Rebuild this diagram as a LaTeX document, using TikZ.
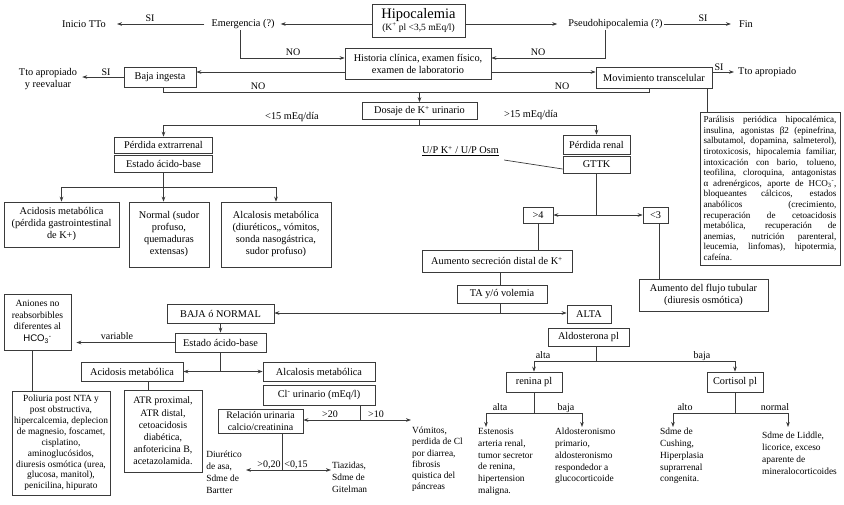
\documentclass[tikz,border=0pt]{standalone}
\usepackage{fontspec}
\setmainfont{Liberation Serif}
\newfontfamily\sansf{Liberation Sans}
\usetikzlibrary{arrows.meta}
\newcommand\fsz[2]{\fontsize{#1}{#2}\selectfont}
\definecolor{lc}{HTML}{3a3a3a}
\begin{document}
\begin{tikzpicture}[x=1pt,y=-1pt,
  box/.style={draw=lc, line width=0.7pt, align=center, inner sep=1pt, font=\fsz{10.3}{12}},
  txt/.style={inner sep=1pt, align=center, font=\fsz{10.3}{12}},
  ltxt/.style={inner sep=1pt, align=left, anchor=north west, font=\fsz{9.4}{11.8}},
  lab/.style={inner sep=0pt, anchor=base, font=\fsz{10}{12}},
  ln/.style={draw=lc, line width=0.7pt},
  arr/.style={ln, -{Stealth[length=5pt,width=3.6pt]}},
  darr/.style={ln, {Stealth[length=5pt,width=3.6pt]}-{Stealth[length=5pt,width=3.6pt]}},
]
\useasboundingbox (0,0) rectangle (844,504);

% ---------- top ----------
\node[box, minimum width=93, minimum height=33] (hipo) at (418.5,20.5)
  {{\fsz{14.5}{15}Hipocalemia}\\{\fsz{9.5}{11}(K\textsuperscript{+} pl <3,5 mEq/l)}};
\node[txt] (emerg) at (243,24) {Emergencia (?)};
\node[txt] (inicio) at (84,24) {Inicio TTo};
\node[txt] (pseudo) at (615.5,24) {Pseudohipocalemia (?)};
\node[txt] (fin) at (746,24) {Fin};
\node[box, minimum width=146, minimum height=31] (hist) at (418,63.5)
  {Historia clínica, examen físico,\\examen de laboratorio};
\node[box, minimum width=72, minimum height=20] (baja) at (160,77) {Baja ingesta};
\node[txt] (tto1) at (48,79.5) {Tto apropiado\\y reevaluar};
\node[box, minimum width=116, minimum height=21] (mov) at (654,77.5) {Movimiento transcelular};
\node[txt, anchor=west] (tto2) at (737,72) {Tto apropiado};
\node[box, minimum width=140, minimum height=153, align=left, inner sep=0pt, font=\fsz{9.1}{10.6}] (big) at (770,188.5)
  {\makebox[133pt][s]{Parálisis periódica hipocalémica,}\\
   \makebox[133pt][s]{insulina, agonistas β2 (epinefrina,}\\
   \makebox[133pt][s]{salbutamol, dopamina, salmeterol),}\\
   \makebox[133pt][s]{tirotoxicosis, hipocalemia familiar,}\\
   \makebox[133pt][s]{intoxicación con bario, tolueno,}\\
   \makebox[133pt][s]{teofilina, cloroquina, antagonistas}\\
   \makebox[133pt][s]{α adrenérgicos, aporte de HCO\textsubscript{3}\textsuperscript{-},}\\
   \makebox[133pt][s]{bloqueantes cálcicos, estados}\\
   \makebox[133pt][s]{anabólicos (crecimiento,}\\
   \makebox[133pt][s]{recuperación de cetoacidosis}\\
   \makebox[133pt][s]{metabólica, recuperación de}\\
   \makebox[133pt][s]{anemias, nutrición parenteral,}\\
   \makebox[133pt][s]{leucemia, linfomas), hipotermia,}\\
   cafeína.};

\node[box, minimum width=115, minimum height=17] (dos) at (419.5,111) {Dosaje de K\textsuperscript{+} urinario};
\node[txt] (lt15) at (292,117) {<15 mEq/día};
\node[txt] (gt15) at (531,115) {>15 mEq/día};

% ---------- extrarrenal ----------
\node[box, minimum width=98, minimum height=16] (pext) at (163.5,145) {Pérdida extrarrenal};
\node[box, minimum width=98, minimum height=17] (est1) at (163.5,163.5) {Estado ácido-base};
\node[box, minimum width=115, minimum height=45] (acid1) at (61.5,224.5)
  {Acidosis metabólica\\(pérdida gastrointestinal\\de K+)};
\node[box, minimum width=80, minimum height=65] (norm) at (169,234.5)
  {Normal (sudor\\profuso,\\quemaduras\\extensas)};
\node[box, minimum width=110, minimum height=65] (alc1) at (276,234.5)
  {Alcalosis metabólica\\(diuréticos,, vómitos,\\sonda nasogástrica,\\sudor profuso)};

% ---------- renal ----------
\node[box, minimum width=67, minimum height=19] (pren) at (596.5,144.5) {Pérdida renal};
\node[box, minimum width=67, minimum height=17] (gttk) at (596.5,164.5) {GTTK};
\node[txt, anchor=south west] (upk) at (421,157) {\underline{U/P K\textsuperscript{+} / U/P Osm}};
\node[box, minimum width=30, minimum height=16] (gt4) at (538,215) {>4};
\node[box, minimum width=25, minimum height=16] (lt3) at (655.5,215) {<3};
\node[box, minimum width=150, minimum height=22] (aums) at (497,261) {Aumento secreción distal de K\textsuperscript{+}};
\node[box, minimum width=129, minimum height=32] (aumf) at (703.5,295) {Aumento del flujo tubular\\(diuresis osmótica)};
\node[box, minimum width=90, minimum height=18] (ta) at (502,294) {TA y/ó volemia};
\node[box, minimum width=107, minimum height=19] (bajn) at (220.5,313.5) {BAJA ó NORMAL};
\node[box, minimum width=44, minimum height=18] (alta) at (589,314) {ALTA};
\node[box, minimum width=81, minimum height=18] (aldo) at (588.5,337) {Aldosterona pl};
\node[box, minimum width=56, minimum height=20] (ren) at (534,382) {renina pl};
\node[box, minimum width=56, minimum height=20] (cort) at (735,382) {Cortisol pl};
\node[ltxt] (esten) at (477,427) {Estenosis\\arteria renal,\\tumor secretor\\de renina,\\hipertension\\maligna.};
\node[ltxt] (aldst) at (554,427) {Aldosteronismo\\primario,\\aldosteronismo\\respondedor a\\glucocorticoide};
\node[ltxt] (cush) at (659,427) {Sdme de\\Cushing,\\Hiperplasia\\suprarrenal\\congenita.};
\node[ltxt] (lidd) at (761,431) {Sdme de Liddle,\\licorice, exceso\\aparente de\\mineralocorticoides};

% ---------- lower left ----------
\node[box, minimum width=67, minimum height=56, font=\fsz{9.6}{11.2}] (anio) at (37.5,322)
  {Aniones no\\reabsorbibles\\diferentes al\\[1.5pt]{\sansf HCO\textsubscript{3}\textsuperscript{-}}};
\node[box, minimum width=91, minimum height=19] (est2) at (220.5,342.5) {Estado ácido-base};
\node[box, minimum width=102, minimum height=19] (acid2) at (132,371.5) {Acidosis metabólica};
\node[box, minimum width=112, minimum height=19] (alc2) at (319,371.5) {Alcalosis metabólica};
\node[box, minimum width=112, minimum height=20] (cl) at (319,395) {Cl\textsuperscript{-} urinario (mEq/l)};
\node[box, minimum width=98, minimum height=104, font=\fsz{9.4}{10.9}] (poli) at (61,443)
  {Poliuria post NTA y\\post obstructiva,\\hipercalcemia, deplecion\\de magnesio, foscamet,\\cisplatino,\\aminoglucósidos,\\diuresis osmótica (urea,\\glucosa, manitol),\\penicilina, hipurato};
\node[box, minimum width=78, minimum height=82, font=\fsz{9.9}{12.2}] (atr) at (163,431)
  {ATR proximal,\\ATR distal,\\cetoacidosis\\diabética,\\anfotericina B,\\acetazolamida.};
\node[box, minimum width=85, minimum height=24, font=\fsz{9.9}{11.5}] (rel) at (260.5,421) {Relación urinaria\\calcio/creatinina};
\node[ltxt, font=\fsz{9.4}{11.2}] (vom) at (411,426) {Vómitos,\\perdida de Cl\\por diarrea,\\fibrosis\\quistica del\\páncreas};
\node[ltxt, anchor=north east, font=\fsz{9.4}{12}] (diur) at (243,450) {Diurético\\de asa,\\Sdme de\\Bartter};
\node[ltxt, font=\fsz{9.4}{12}] (tiaz) at (331,461) {Tiazidas,\\Sdme de\\Gitelman};

% ---------- coordinates ----------
\coordinate (j1) at (419.5,92);
\coordinate (j2) at (419.5,125);
\coordinate (j3) at (163.5,187);
\coordinate (j4) at (596.5,215);
\coordinate (j5) at (500,313);
\coordinate (j6) at (596,361);
\coordinate (j7) at (534,413);
\coordinate (j8) at (735,413);
\coordinate (j9) at (220.5,371.5);
\coordinate (j10) at (360,420);
\coordinate (j11) at (282,470);

% ---------- connectors ----------
\draw[arr, shorten >=5pt] (hipo.west |- emerg.east) -- (emerg.east);
\draw[arr, shorten <=6pt, shorten >=10pt] (emerg.west) -- (inicio.east);
\node[lab] at (150,21) {SI};
\draw[arr, shorten >=10pt] (hipo.east |- pseudo.west) -- (pseudo.west);
\draw[arr, shorten >=7pt] (pseudo.east) -- (fin.west);
\node[lab] at (703,21) {SI};
\draw[arr] ([xshift=-3pt]emerg.south) |- ([yshift=5.5pt]hist.west);
\node[lab] at (293,55) {NO};
\draw[arr] ([xshift=-10.5pt]pseudo.south) |- ([yshift=5.5pt]hist.east);
\node[lab] at (538,55) {NO};
\draw[arr] ([yshift=-8.5pt]hist.west) coordinate (h1) -- (h1 -| baja.east);
\draw[arr, shorten >=4pt] (baja.west) -- (baja.west -| tto1.east);
\node[lab] at (106,75) {SI};
\draw[arr] ([yshift=-8.5pt]hist.east) coordinate (h2) -- (h2 -| mov.west);
\draw[arr, shorten >=3pt] ([yshift=5.5pt]mov.east) coordinate (m1) -- (m1 -| tto2.west);
\node[lab] at (719,70) {SI};
\draw[ln] ([xshift=-5pt]mov.south east) coordinate (m2) -- (m2 |- big.north);
\draw[ln] ([xshift=3pt]baja.south) |- (j1);
\node[lab] at (258,89) {NO};
\draw[ln] ([xshift=-5pt]mov.south) |- (j1);
\node[lab] at (562,89) {NO};
\draw[arr] (j1) -- (dos.north);
\draw[ln] (dos.south) -- (j2);
\draw[arr] (j2) -| (pext.north);
\draw[arr] (j2) -| (pren.north);
\draw[ln] (est1.south) -- (j3);
\draw[arr] (j3) -| (acid1.north);
\draw[arr] (j3) -- (j3 |- norm.north);
\draw[arr] (j3) -| (alc1.north);
\draw[ln] ([xshift=4pt,yshift=-3pt]upk.south east) -- ([yshift=-4.5pt]gttk.west);
\draw[ln] (gttk.south) -- (j4);
\draw[arr] (j4) -- (gt4.east);
\draw[arr] (j4) -- (lt3.west);
\draw[ln] (gt4.south) -- (gt4.south |- aums.north);
\draw[ln] ([xshift=3.5pt]lt3.south) coordinate (l3) -- (l3 |- aumf.north);
\draw[ln] ([xshift=3pt]aums.south) coordinate (a1) -- (a1 |- ta.north);
\draw[ln] ([xshift=-2pt]ta.south) -- (j5);
\draw[arr] (j5) -- (j5 -| bajn.east);
\draw[arr] (j5) -- (j5 -| alta.west);
\draw[ln] ([xshift=7.5pt]aldo.south) -- (j6);
\draw[arr] (j6) -| (ren.north);
\draw[arr] (j6) -| (cort.north);
\node[lab] at (543,358) {alta};
\node[lab] at (702,358) {baja};
\draw[ln] (ren.south) -- (j7);
\draw[arr] (j7) -| ([xshift=9pt]esten.north west);
\draw[arr] (j7) -| ([xshift=28pt]aldst.north west);
\node[lab] at (500,410) {alta};
\node[lab] at (566,410) {baja};
\draw[ln] (cort.south) -- (j8);
\draw[arr] (j8) -| ([xshift=14pt]cush.north west);
\draw[arr] (j8) -| ([xshift=27pt,yshift=4pt]lidd.north west);
\node[lab] at (685,410) {alto};
\node[lab] at (775,410) {normal};

\draw[arr] (bajn.south) -- (bajn.south |- est2.north);
\draw[arr, shorten >=5pt] (est2.west) -- (est2.west -| anio.east);
\node[lab] at (117,339) {variable};
\draw[ln] (est2.south) -- (j9);
\draw[arr] (j9) -- (acid2.east);
\draw[arr] (j9) -- (alc2.west);
\draw[ln] ([xshift=-5.5pt]anio.south) coordinate (an) -- (an |- poli.north);
\draw[ln] ([xshift=16pt]acid2.south) coordinate (ac) -- (ac |- atr.north);
\draw[ln] ([xshift=41pt]cl.south) -- (j10);
\draw[arr] (j10) -- (j10 -| rel.east);
\draw[arr] (j10) -- (j10 -| vom.west);
\node[lab] at (330,417) {>20};
\node[lab] at (376,417) {>10};
\draw[ln] ([xshift=21.5pt]rel.south) -- (j11);
\draw[arr, shorten >=3pt] (j11) -- (j11 -| diur.east);
\draw[arr] (j11) -- (j11 -| tiaz.west);
\node[lab] at (269,467) {>0,20};
\node[lab] at (296,467) {<0,15};
\end{tikzpicture}
\end{document}
